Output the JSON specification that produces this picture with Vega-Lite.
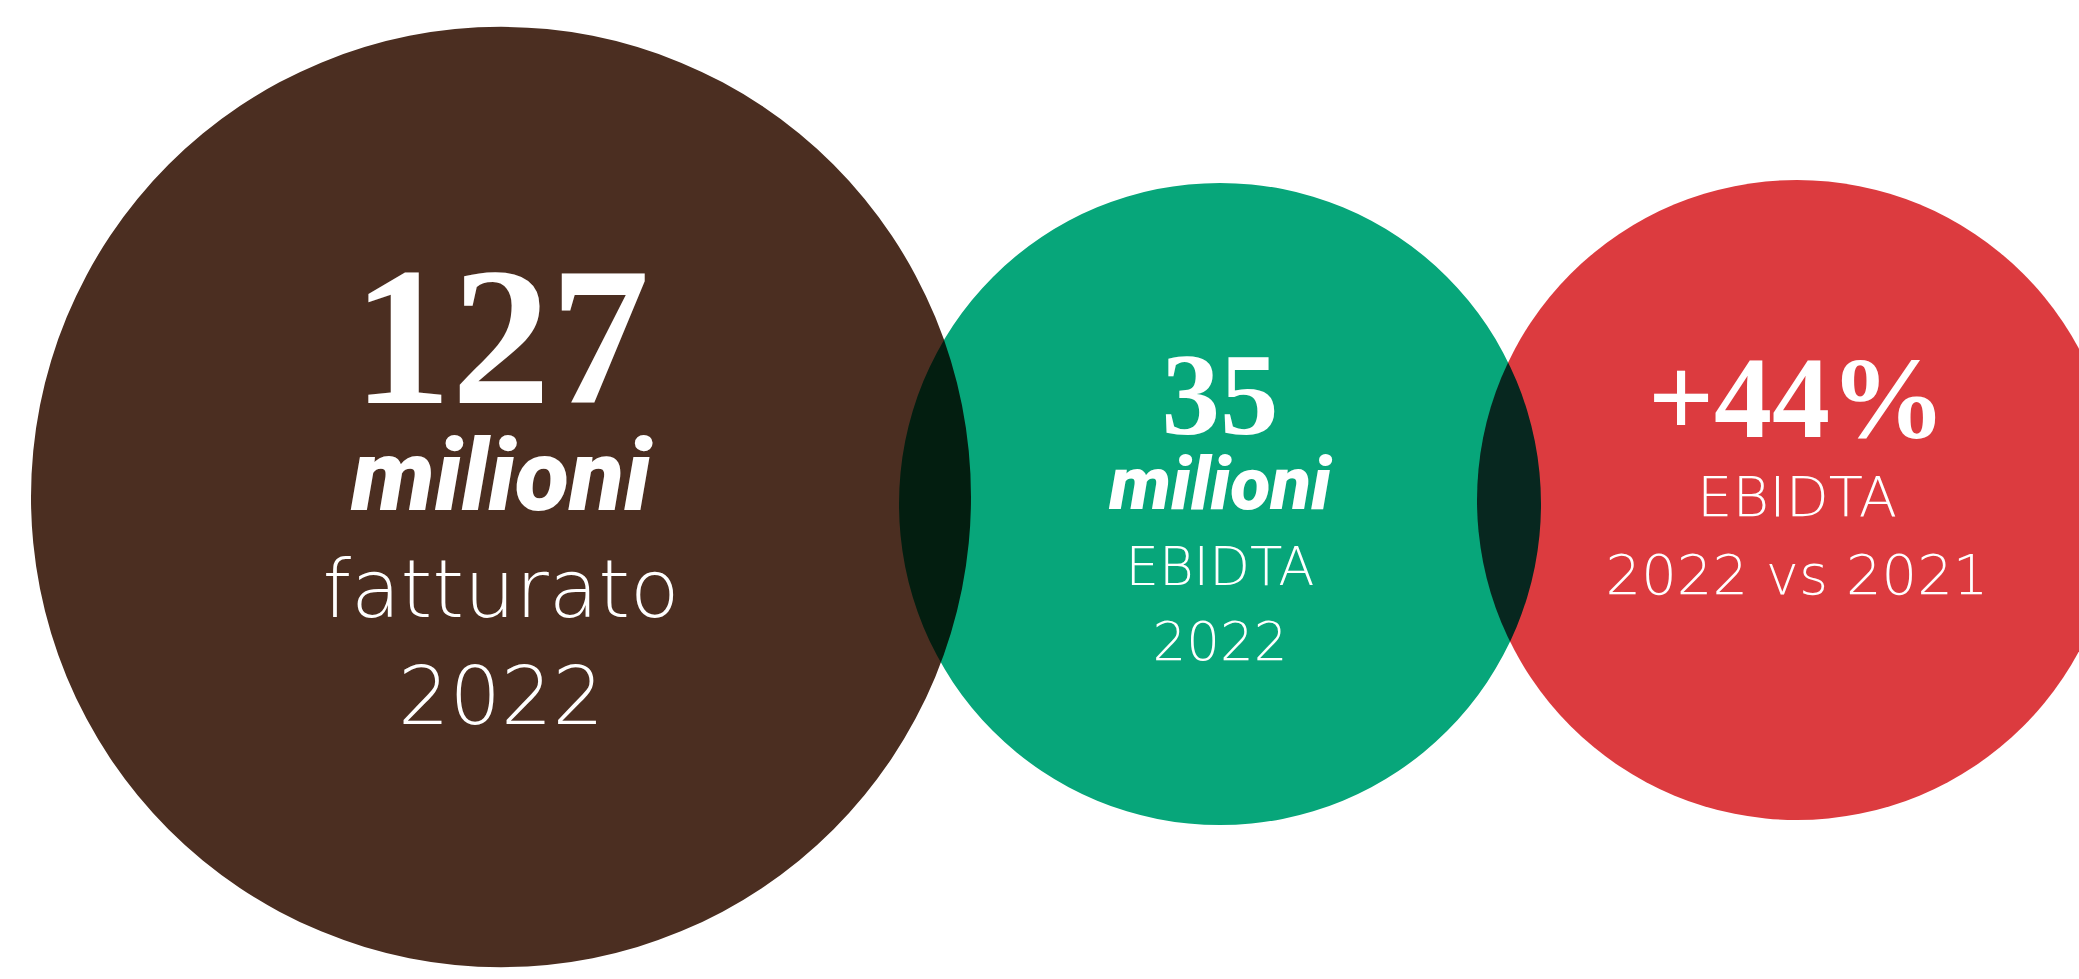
{
  "$schema": "https://vega.github.io/schema/vega-lite/v6.json",
  "width": 2079,
  "height": 979,
  "autosize": {"type": "fit", "contains": "padding"},
  "padding": 0,
  "background": "white",
  "config": {"view": {"stroke": null}},
  "datasets": {
    "circles": [
      {"item": "fatturato", "value": 127},
      {"item": "ebitda", "value": 35},
      {"item": "crescita", "value": 44}
    ],
    "lines": [
      {"item": "fatturato", "role": "number", "text": "127"},
      {"item": "fatturato", "role": "unit", "text": "milioni"},
      {"item": "fatturato", "role": "desc1", "text": "fatturato"},
      {"item": "fatturato", "role": "desc2", "text": "2022"},
      {"item": "ebitda", "role": "number", "text": "35"},
      {"item": "ebitda", "role": "unit", "text": "milioni"},
      {"item": "ebitda", "role": "desc1", "text": "EBIDTA"},
      {"item": "ebitda", "role": "desc2", "text": "2022"},
      {"item": "crescita", "role": "number", "text": "+44%"},
      {"item": "crescita", "role": "desc1", "text": "EBIDTA"},
      {"item": "crescita", "role": "desc2", "text": "2022 vs 2021"}
    ]
  },
  "data": {"name": "lines"},
  "resolve": {"scale": {"x": "independent", "y": "independent"}},
  "layer": [
    {
      "encoding": {
        "x": {"field": "item", "type": "nominal", "axis": null, "scale": {"type": "point", "domain": ["fatturato"], "range": [503, 503]}},
        "y": {"field": "role", "type": "nominal", "axis": null, "scale": {"type": "point", "padding": 0, "domain": ["number", "unit", "desc1", "desc2"], "range": [403, 724]}}
      },
      "resolve": {"scale": {"y": "independent"}},
      "layer": [
        {
          "data": {"name": "circles"},
          "transform": [{"filter": "datum.item === 'fatturato'"}],
          "mark": {"type": "circle", "size": 883600, "color": "#4b2e21", "opacity": 1, "blend": "multiply"},
          "encoding": {
            "x": {"field": "item", "type": "nominal", "axis": null, "scale": {"type": "point", "domain": ["fatturato"], "range": [501, 501]}},
            "y": {"field": "item", "type": "nominal", "axis": null, "scale": {"type": "point", "domain": ["fatturato"], "range": [497, 497]}}
          },
          "resolve": {"scale": {"x": "independent"}}
        },
        {
          "transform": [{"filter": "datum.item === 'fatturato' && datum.role === 'number'"}],
          "mark": {"type": "text", "font": "Liberation Serif", "fontWeight": "bold", "fontSize": 198, "color": "white", "align": "center", "baseline": "alphabetic"},
          "encoding": {"text": {"field": "text"}}
        },
        {
          "transform": [{"filter": "datum.item === 'fatturato' && datum.role === 'unit'"}],
          "mark": {"type": "text", "font": "Roboto", "fontWeight": 900, "fontStyle": "italic", "fontSize": 100, "color": "white", "align": "center", "baseline": "alphabetic"},
          "encoding": {"text": {"field": "text"}}
        },
        {
          "transform": [{"filter": "datum.item === 'fatturato' && (datum.role === 'desc1' || datum.role === 'desc2')"}],
          "mark": {"type": "text", "font": "DejaVu Sans", "fontWeight": 200, "fontSize": 81, "color": "white", "align": "center", "baseline": "alphabetic"},
          "encoding": {"text": {"field": "text"}}
        }
      ]
    },
    {
      "encoding": {
        "x": {"field": "item", "type": "nominal", "axis": null, "scale": {"type": "point", "domain": ["ebitda"], "range": [1220, 1220]}},
        "y": {"field": "role", "type": "nominal", "axis": null, "scale": {"type": "point", "padding": 0, "domain": ["number", "unit", "desc1", "desc2"], "range": [434, 660]}}
      },
      "resolve": {"scale": {"y": "independent"}},
      "layer": [
        {
          "data": {"name": "circles"},
          "transform": [{"filter": "datum.item === 'ebitda'"}],
          "mark": {"type": "circle", "size": 412164, "color": "#07a67a", "opacity": 1, "blend": "multiply"},
          "encoding": {"y": {"field": "item", "type": "nominal", "axis": null, "scale": {"type": "point", "domain": ["ebitda"], "range": [504, 504]}}}
        },
        {
          "transform": [{"filter": "datum.item === 'ebitda' && datum.role === 'number'"}],
          "mark": {"type": "text", "font": "Liberation Serif", "fontWeight": "bold", "fontSize": 117, "color": "white", "align": "center", "baseline": "alphabetic"},
          "encoding": {"text": {"field": "text"}}
        },
        {
          "transform": [{"filter": "datum.item === 'ebitda' && datum.role === 'unit'"}],
          "mark": {"type": "text", "font": "Roboto", "fontWeight": 900, "fontStyle": "italic", "fontSize": 74, "color": "white", "align": "center", "baseline": "alphabetic"},
          "encoding": {"text": {"field": "text"}}
        },
        {
          "transform": [{"filter": "datum.item === 'ebitda' && (datum.role === 'desc1' || datum.role === 'desc2')"}],
          "mark": {"type": "text", "font": "DejaVu Sans", "fontWeight": 200, "fontSize": 53, "color": "white", "align": "center", "baseline": "alphabetic"},
          "encoding": {"text": {"field": "text"}}
        }
      ]
    },
    {
      "encoding": {
        "x": {"field": "item", "type": "nominal", "axis": null, "scale": {"type": "point", "domain": ["crescita"], "range": [1795, 1795]}},
        "y": {"field": "role", "type": "nominal", "axis": null, "scale": {"type": "point", "padding": 0, "domain": ["number", "desc1", "desc2"], "range": [437, 594]}}
      },
      "resolve": {"scale": {"y": "independent"}},
      "layer": [
        {
          "data": {"name": "circles"},
          "transform": [{"filter": "datum.item === 'crescita'"}],
          "mark": {"type": "circle", "size": 409600, "color": "#dc3b3f", "opacity": 1, "blend": "multiply"},
          "encoding": {
            "x": {"field": "item", "type": "nominal", "axis": null, "scale": {"type": "point", "domain": ["crescita"], "range": [1797, 1797]}},
            "y": {"field": "item", "type": "nominal", "axis": null, "scale": {"type": "point", "domain": ["crescita"], "range": [500, 500]}}
          },
          "resolve": {"scale": {"x": "independent"}}
        },
        {
          "transform": [{"filter": "datum.item === 'crescita' && datum.role === 'number'"}],
          "mark": {"type": "text", "font": "Liberation Serif", "fontWeight": "bold", "fontSize": 116, "color": "white", "align": "center", "baseline": "alphabetic"},
          "encoding": {"text": {"field": "text"}}
        },
        {
          "transform": [{"filter": "datum.item === 'crescita' && (datum.role === 'desc1' || datum.role === 'desc2')"}],
          "mark": {"type": "text", "font": "DejaVu Sans", "fontWeight": 200, "fontSize": 56, "color": "white", "align": "center", "baseline": "alphabetic"},
          "encoding": {"text": {"field": "text"}}
        }
      ]
    }
  ]
}
